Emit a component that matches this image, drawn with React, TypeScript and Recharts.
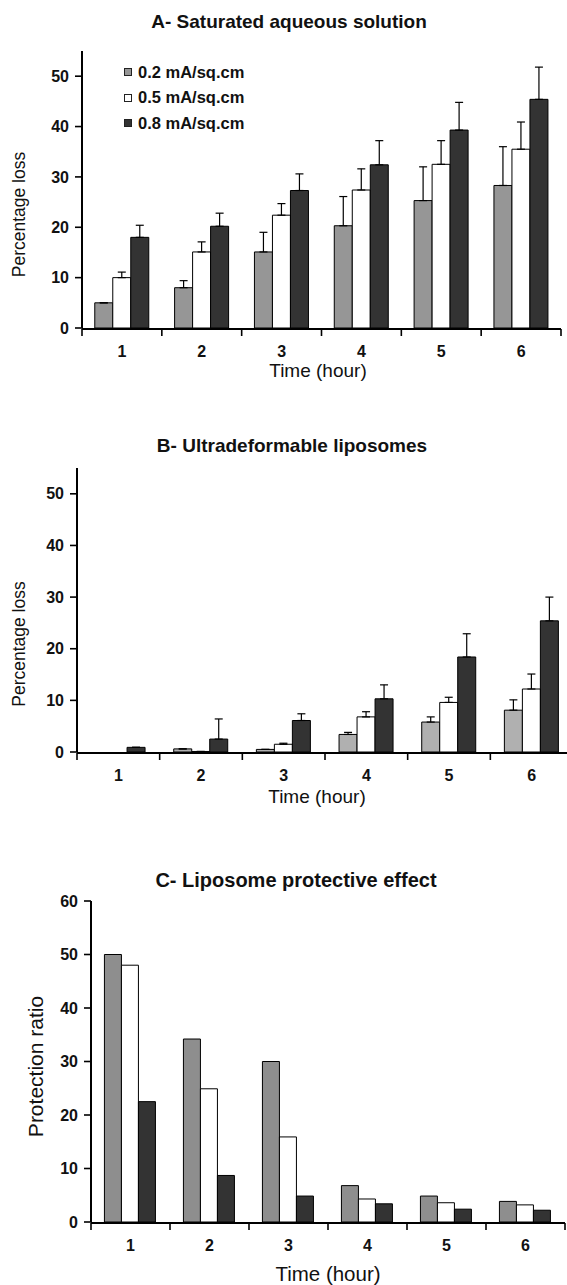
import React from 'react';
import { BarChart, Bar, XAxis, YAxis, ErrorBar, Legend } from 'recharts';

const FONT = '"Liberation Sans", Arial, Helvetica, sans-serif';

const hours = ['1', '2', '3', '4', '5', '6'];
const hourIndex = [1, 2, 3, 4, 5, 6];
const seriesNames = ['0.2 mA/sq.cm', '0.5 mA/sq.cm', '0.8 mA/sq.cm'];
const edgeTicks = [0.5, 1.5, 2.5, 3.5, 4.5, 5.5, 6.5];
const edgeDomain: [number, number] = [0.5, 6.5];
const lossTicks = [0, 10, 20, 30, 40, 50];
const ratioTicks = [0, 10, 20, 30, 40, 50, 60];
const lossDomain: [number, number] = [0, 55];
const ratioDomain: [number, number] = [0, 60];

// A - Saturated aqueous solution
const aLow = [5.0, 8.0, 15.1, 20.3, 25.3, 28.3];
const aLowErr = [0, 1.4, 3.9, 5.8, 6.7, 7.7];
const aMid = [10.0, 15.1, 22.4, 27.4, 32.5, 35.5];
const aMidErr = [1.1, 2.0, 2.3, 4.2, 4.7, 5.4];
const aHigh = [18.0, 20.2, 27.3, 32.4, 39.3, 45.4];
const aHighErr = [2.4, 2.6, 3.3, 4.8, 5.5, 6.4];

// B - Ultradeformable liposomes
const bLow = [0, 0.6, 0.5, 3.4, 5.8, 8.1];
const bLowErr = [0, 0, 0, 0.4, 1.0, 2.0];
const bMid = [0, 0.1, 1.5, 6.8, 9.6, 12.2];
const bMidErr = [0, 0, 0.2, 1.0, 1.0, 2.9];
const bHigh = [0.9, 2.5, 6.1, 10.3, 18.4, 25.4];
const bHighErr = [0, 3.9, 1.3, 2.7, 4.5, 4.6];

// C - Liposome protective effect
const cLow = [50, 34.2, 30, 6.8, 4.85, 3.85];
const cMid = [48, 24.9, 15.9, 4.3, 3.6, 3.2];
const cHigh = [22.5, 8.7, 4.85, 3.4, 2.4, 2.2];

const build = (s1: number[], s2: number[], s3: number[], e1?: number[], e2?: number[], e3?: number[]) =>
  hours.map((h, i) => ({
    hour: h,
    n: hourIndex[i],
    s1: s1[i],
    s2: s2[i],
    s3: s3[i],
    e1: e1 ? [0, e1[i]] : [0, 0],
    e2: e2 ? [0, e2[i]] : [0, 0],
    e3: e3 ? [0, e3[i]] : [0, 0],
  }));

const dataA = build(aLow, aMid, aHigh, aLowErr, aMidErr, aHighErr);
const dataB = build(bLow, bMid, bHigh, bLowErr, bMidErr, bHighErr);
const dataC = build(cLow, cMid, cHigh);

const colorsA = ['#969696', '#ffffff', '#333333'];
const colorsB = ['#b0b0b0', '#ffffff', '#333333'];
const colorsC = ['#8e8e8e', '#ffffff', '#333333'];

const tickStyle = { fill: '#111', fontSize: 16, fontWeight: 700, fontFamily: FONT };
const axisLineStyle = { stroke: '#000', strokeWidth: 2 };
const tickLineStyle = { stroke: '#000', strokeWidth: 1.6 };
const blankLabel = () => '';

const LegendBox = () => (
  <div style={{ fontFamily: FONT, fontSize: 16.5, fontWeight: 700, color: '#111' }}>
    {seriesNames.map((name, i) => (
      <div key={name} style={{ display: 'flex', alignItems: 'center', height: 25.5, whiteSpace: 'nowrap' }}>
        <span
          style={{
            display: 'inline-block',
            width: 8,
            height: 8,
            boxSizing: 'border-box',
            border: '1px solid #222',
            background: colorsA[i],
          }}
        />
        <span style={{ marginLeft: 6 }}>{name}</span>
      </div>
    ))}
  </div>
);

type PanelProps = {
  data: any[];
  colors: string[];
  width: number;
  height: number;
  margin: { top: number; right: number; bottom: number; left: number };
  yWidth: number;
  domain: [number, number];
  ticks: number[];
  gap: string;
  showErr: boolean;
  legend?: boolean;
};

const Panel = ({ data, colors, width, height, margin, yWidth, domain, ticks, gap, showErr, legend }: PanelProps) => (
  <BarChart width={width} height={height} data={data} margin={margin} barCategoryGap={gap} barGap={0}>
    <XAxis
      xAxisId="edge"
      type="number"
      dataKey="n"
      domain={edgeDomain}
      ticks={edgeTicks}
      allowDataOverflow
      interval={0}
      tick={tickStyle}
      tickFormatter={blankLabel}
      tickSize={7}
      tickLine={tickLineStyle}
      axisLine={axisLineStyle}
      height={1}
    />
    <XAxis
      xAxisId="cat"
      dataKey="hour"
      interval={0}
      tickLine={false}
      axisLine={false}
      tickSize={7}
      tickMargin={11}
      height={1}
      tick={tickStyle}
    />
    <YAxis
      domain={domain}
      ticks={ticks}
      allowDataOverflow
      width={yWidth}
      tickSize={7}
      tickMargin={6}
      interval={0}
      axisLine={axisLineStyle}
      tickLine={tickLineStyle}
      tick={tickStyle}
    />
    {legend && (
      <Legend
        layout="vertical"
        align="center"
        verticalAlign="middle"
        content={() => <LegendBox />}
        wrapperStyle={{ left: 124, top: 59.5, width: 200 }}
      />
    )}
    {['s1', 's2', 's3'].map((k, i) => (
      <Bar
        key={k}
        xAxisId="cat"
        dataKey={k}
        name={seriesNames[i]}
        fill={colors[i]}
        stroke="#000"
        strokeWidth={1}
        isAnimationActive={false}
      >
        {showErr && <ErrorBar dataKey={'e' + (i + 1)} width={4} stroke="#000" strokeWidth={1.2} direction="y" />}
      </Bar>
    ))}
  </BarChart>
);

const textBase = { fontFamily: FONT, fill: '#111' } as const;

export default function App() {
  return (
    <div
      style={{
        position: 'absolute',
        left: 0,
        top: 0,
        width: 567,
        height: 1285,
        overflow: 'hidden',
        background: '#fff',
      }}
    >
      <div style={{ position: 'absolute', left: 0, top: 0 }}>
        <Panel
          data={dataA}
          colors={colorsA}
          width={567}
          height={400}
          margin={{ top: 51, right: 6, bottom: 70, left: 0 }}
          yWidth={82}
          domain={lossDomain}
          ticks={lossTicks}
          gap="16%"
          showErr
          legend
        />
      </div>
      <div style={{ position: 'absolute', left: 0, top: 410 }}>
        <Panel
          data={dataB}
          colors={colorsB}
          width={573}
          height={420}
          margin={{ top: 58, right: 0, bottom: 76, left: 0 }}
          yWidth={77}
          domain={lossDomain}
          ticks={lossTicks}
          gap="17%"
          showErr
        />
      </div>
      <div style={{ position: 'absolute', left: 0, top: 850 }}>
        <Panel
          data={dataC}
          colors={colorsC}
          width={567}
          height={435}
          margin={{ top: 51, right: 2, bottom: 61, left: 0 }}
          yWidth={91}
          domain={ratioDomain}
          ticks={ratioTicks}
          gap="17%"
          showErr={false}
        />
      </div>
      <svg
        width={567}
        height={1285}
        style={{ position: 'absolute', left: 0, top: 0, pointerEvents: 'none' }}
      >
        <text x={289} y={28.3} textAnchor="middle" fontSize={19} fontWeight={700} {...textBase}>
          A- Saturated aqueous solution
        </text>
        <text x={25} y={214.5} textAnchor="middle" fontSize={17.5} transform="rotate(-90 25 214.5)" {...textBase}>
          Percentage loss
        </text>
        <text x={318} y={377} textAnchor="middle" fontSize={19} {...textBase}>
          Time (hour)
        </text>

        <text x={292} y={452} textAnchor="middle" fontSize={19} fontWeight={700} {...textBase}>
          B- Ultradeformable liposomes
        </text>
        <text x={25} y={644} textAnchor="middle" fontSize={17.5} transform="rotate(-90 25 644)" {...textBase}>
          Percentage loss
        </text>
        <text x={317} y={803} textAnchor="middle" fontSize={19} {...textBase}>
          Time (hour)
        </text>

        <text x={296} y={886.5} textAnchor="middle" fontSize={20} fontWeight={700} {...textBase}>
          C- Liposome protective effect
        </text>
        <text x={43} y={1066.5} textAnchor="middle" fontSize={21} transform="rotate(-90 43 1066.5)" {...textBase}>
          Protection ratio
        </text>
        <text x={328} y={1281} textAnchor="middle" fontSize={20.5} {...textBase}>
          Time (hour)
        </text>
      </svg>
    </div>
  );
}
